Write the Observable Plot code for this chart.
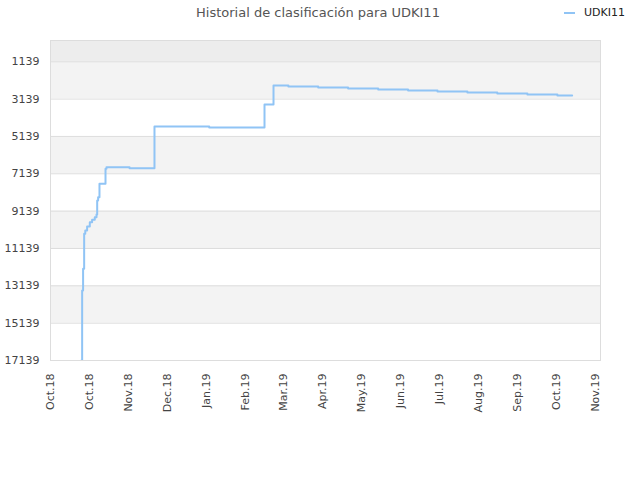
<!DOCTYPE html>
<html>
<head>
<meta charset="utf-8">
<script src="https://cdn.jsdelivr.net/npm/d3@7"></script>
<script src="https://cdn.jsdelivr.net/npm/@observablehq/plot@0.6"></script>
<style>
  html, body { margin: 0; padding: 0; background: #fff; }
  #wrap { position: relative; width: 640px; height: 480px; font-family: "DejaVu Sans", sans-serif; }
  #title { position: absolute; left: 0; width: 636px; top: 5px; text-align: center; font-size: 13px; color: #555; }
  #legend { position: absolute; left: 564px; top: 6px; font-size: 11px; color: #222; display: flex; align-items: center; }
  #legend .sw { width: 11px; height: 2px; background: #90c4f5; margin-right: 9px; }
  #chart { position: absolute; left: 0; top: 0; }
</style>
</head>
<body>
<div id="wrap">
  <div id="chart"></div>
  <div id="title">Historial de clasificación para UDKI11</div>
  <div id="legend"><span class="sw"></span><span>UDKI11</span></div>
</div>
<script>
// Series: date at which the rank changes, and the rank from then on
const dates = [
  "2018-10-24T00:00Z", "2018-10-24T14:00Z", "2018-10-25T07:00Z", "2018-10-26T02:00Z",
  "2018-10-26T22:00Z", "2018-10-28T07:00Z", "2018-10-30T07:00Z", "2018-11-01T00:00Z",
  "2018-11-03T00:00Z", "2018-11-04T07:00Z", "2018-11-04T19:00Z", "2018-11-05T12:00Z",
  "2018-11-06T12:00Z", "2018-11-11T00:00Z", "2018-11-11T17:00Z", "2018-11-28T22:00Z",
  "2018-12-17T12:00Z", "2019-01-27T07:00Z", "2019-03-09T12:00Z", "2019-03-16T05:00Z",
  "2019-03-27T07:00Z", "2019-04-18T12:00Z", "2019-05-10T19:00Z", "2019-06-02T05:00Z",
  "2019-06-24T12:00Z", "2019-07-16T10:00Z", "2019-08-07T17:00Z", "2019-08-30T00:00Z",
  "2019-09-21T10:00Z", "2019-10-13T19:00Z", "2019-10-24T19:00Z"
];
const ranks = [
  17139, 13390, 12230, 10350,
  10176, 9962, 9732, 9603,
  9464, 9320, 8570, 8393,
  7675, 6872, 6786, 6840,
  4606, 4660, 3428, 2410,
  2464, 2517, 2571, 2624,
  2678, 2732, 2785, 2839,
  2892, 2946, 2946
];

// Axis ticks
const yTicks = [1139, 3139, 5139, 7139, 9139, 11139, 13139, 15139, 17139];
const xTickDates = [
  "2018-10-01", "2018-10-30", "2018-11-28", "2018-12-27", "2019-01-25",
  "2019-02-23", "2019-03-24", "2019-04-22", "2019-05-21", "2019-06-19",
  "2019-07-18", "2019-08-16", "2019-09-14", "2019-10-13", "2019-11-11"
];
const xTickLabels = [
  "Oct.18", "Oct.18", "Nov.18", "Dec.18", "Jan.19",
  "Feb.19", "Mar.19", "Apr.19", "May.19", "Jun.19",
  "Jul.19", "Aug.19", "Sep.19", "Oct.19", "Nov.19"
];
const xStart = "2018-10-01";
const xEnd = "2019-11-14T22:00Z";
const yTop = 0;

const data = dates.map((d, i) => ({date: d3.isoParse(d), rank: ranks[i]}));
const tickDates = xTickDates.map(d => d3.isoParse(d));
const bounds = [yTop, ...yTicks];
const bands = bounds.slice(0, -1).map((b, i) => ({y1: b, y2: bounds[i + 1], i}));
const labelOf = new Map(tickDates.map((d, i) => [+d, xTickLabels[i]]));

const chart = Plot.plot({
  width: 640,
  height: 480,
  marginLeft: 50,
  marginRight: 40,
  marginTop: 40,
  marginBottom: 120,
  style: {fontFamily: "DejaVu Sans, sans-serif", fontSize: "11px", color: "#555", background: "transparent"},
  x: {type: "utc", domain: [d3.isoParse(xStart), d3.isoParse(xEnd)]},
  y: {domain: [yTop, yTicks[yTicks.length - 1]], reverse: true},
  marks: [
    Plot.rect(bands, {y1: "y1", y2: "y2", fill: d => d.i === 0 ? "#ededed" : (d.i % 2 ? "#f3f3f3" : "#ffffff")}),
    Plot.gridY(yTicks, {stroke: "#dddddd", strokeOpacity: 1}),
    Plot.frame({stroke: "#dddddd"}),
    Plot.axisY({ticks: yTicks, tickFormat: d => String(d), tickSize: 0, tickPadding: 11, label: null, fill: "#444"}),
    Plot.axisX({ticks: tickDates, tickFormat: d => labelOf.get(+d), tickRotate: -90, tickSize: 0, tickPadding: 13, label: null, fill: "#444"}),
    Plot.line(data, {x: "date", y: "rank", curve: "step-after", stroke: "#90c4f5", strokeWidth: 2, clip: true})
  ]
});
document.getElementById("chart").appendChild(chart);
</script>
</body>
</html>
